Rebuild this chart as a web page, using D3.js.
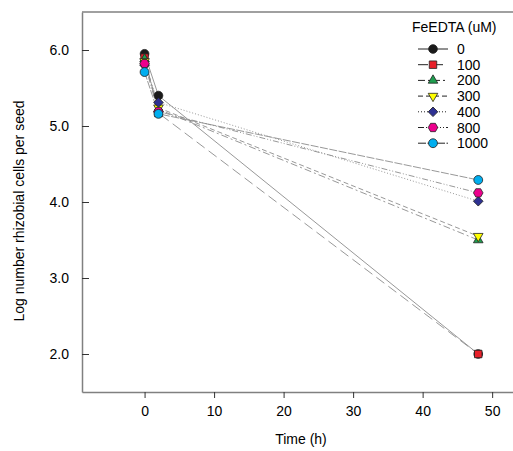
<!DOCTYPE html>
<html><head><meta charset="utf-8">
<script src="https://cdn.jsdelivr.net/npm/d3@7"></script>
<style>body{margin:0;background:#fff}svg{display:block;font-family:Arial,"Liberation Sans",sans-serif}</style>
</head><body><svg id="c" width="513" height="451"></svg>
<script>
const times = [0, 2, 48];
const seriesNames = ["0", "100", "200", "300", "400", "800", "1000"];
const s0 = [5.95, 5.40, 2.00];
const s100 = [5.90, 5.17, 2.00];
const s200 = [5.88, 5.22, 3.50];
const s300 = [5.85, 5.24, 3.55];
const s400 = [5.80, 5.31, 4.01];
const s800 = [5.82, 5.19, 4.12];
const s1000 = [5.71, 5.16, 4.29];
const seriesValues = [s0, s100, s200, s300, s400, s800, s1000];
const xTicks = [0, 10, 20, 30, 40, 50];
const yTicks = [2, 3, 4, 5, 6];
const colors = ["#1a1a1a", "#e8202a", "#1f9e4f", "#ffff00", "#2e3192", "#ec008c", "#00aeef"];
const symbols = [d3.symbolCircle, d3.symbolSquare, d3.symbolTriangle, "tdown", "diamond", "hex", d3.symbolCircle];
const dashes = [null, "10,5", "7,3,2,3", "5,3", "1,2", "6,2,1,2,1,2", "8,1.5"];

const svg = d3.select("#c");
const x = d3.scaleLinear().domain([-9, 53]).range([82, 513]);
const y = d3.scaleLinear().domain([1.5, 6.5]).range([392, 12]);
const axisColor = "#808080";

svg.append("line").attr("x1", 82).attr("x2", 513).attr("y1", 12).attr("y2", 12).attr("stroke", axisColor).attr("stroke-width", 1.5);

const gx = svg.append("g").attr("transform", "translate(0,392)")
  .call(d3.axisBottom(x).tickValues(xTicks).tickSize(6).tickPadding(8).tickSizeOuter(0));
const gy = svg.append("g").attr("transform", "translate(82,0)")
  .call(d3.axisLeft(y).tickValues(yTicks).tickFormat(d3.format(".1f")).tickSize(-7).tickPadding(13).tickSizeOuter(0));
[gx, gy].forEach(g => {
  g.select(".domain").attr("stroke", axisColor).attr("stroke-width", 1.5);
  g.selectAll(".tick line").attr("stroke", "#333").attr("stroke-width", 1);
  g.selectAll(".tick text").attr("font-size", 14).attr("fill", "#000").attr("font-family", "Arial, Liberation Sans, sans-serif");
});

svg.append("text").attr("x", x(22.5)).attr("y", 444).attr("text-anchor", "middle")
  .attr("font-size", 14).text("Time (h)");
svg.append("text").attr("transform", "translate(24,211) rotate(-90)").attr("text-anchor", "middle")
  .attr("font-size", 14).text("Log number rhizobial cells per seed");

function symPath(s, size) {
  if (s === "tdown") return d3.symbol(d3.symbolTriangle, size)();
  if (s === "diamond") return d3.symbol(d3.symbolSquare, size)();
  if (s === "hex") {
    const r = Math.sqrt(size / 2.6);
    return d3.line()(d3.range(6).map(i => [r * Math.cos(Math.PI / 3 * i), r * Math.sin(Math.PI / 3 * i)])) + "Z";
  }
  return d3.symbol(s, size)();
}
function symRot(s) { return s === "tdown" ? " rotate(180)" : (s === "diamond" ? " rotate(45)" : ""); }
const sizes = [60, 56, 40, 40, 46, 60, 62];

const line = d3.line().x((d, i) => x(times[i])).y(d => y(d));
seriesValues.forEach((vals, k) => {
  svg.append("path").datum(vals).attr("d", line).attr("fill", "none")
    .attr("stroke", "#8c8c8c").attr("stroke-width", 0.9)
    .attr("stroke-dasharray", dashes[k]);
});
seriesValues.forEach((vals, k) => {
  svg.append("g").selectAll("path").data(vals).join("path")
    .attr("d", symPath(symbols[k], sizes[k]))
    .attr("transform", (d, i) => `translate(${x(times[i])},${y(d)})` + symRot(symbols[k]))
    .attr("fill", colors[k]).attr("stroke", "#222").attr("stroke-width", 0.8);
});

const lg = svg.append("g");
lg.append("text").attr("x", 412).attr("y", 32).attr("font-size", 14).text("FeEDTA (uM)");
seriesNames.forEach((n, k) => {
  const cy = 49 + k * 15.7;
  lg.append("line").attr("x1", 418).attr("x2", 448).attr("y1", cy).attr("y2", cy)
    .attr("stroke", "#222").attr("stroke-width", 1).attr("stroke-dasharray", dashes[k]);
  lg.append("path").attr("d", symPath(symbols[k], sizes[k]))
    .attr("transform", `translate(433,${cy})` + symRot(symbols[k]))
    .attr("fill", colors[k]).attr("stroke", "#222").attr("stroke-width", 0.8);
  lg.append("text").attr("x", 457).attr("y", cy + 5).attr("font-size", 14).text(n);
});
</script></body></html>
